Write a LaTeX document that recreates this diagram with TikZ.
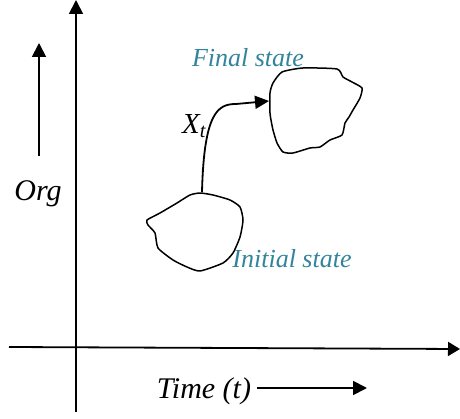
\documentclass[tikz,border=0pt]{standalone}
\usepackage{fontspec}
\setmainfont{Liberation Serif}
\usetikzlibrary{arrows.meta}
\definecolor{teal}{HTML}{31849B}
\begin{document}
\begin{tikzpicture}[x=1pt,y=-1pt,
  axis/.style={line width=1.8pt},
  tri/.style={-{Triangle[length=14pt,width=14pt]}},
  blob/.style={line width=1.5pt,line join=round},
  lbl/.style={font=\itshape\fontsize{30}{32}\selectfont,inner sep=0pt},
  statelbl/.style={font=\itshape\fontsize{26}{28}\selectfont,text=teal,inner sep=0pt}]
\useasboundingbox (0,0) rectangle (460,419);
% axes
\coordinate (ybot) at (76,412);
\coordinate (ytop) at (76,0);
\coordinate (xleft) at (9,347);
\coordinate (xright) at (460,349);
\draw[axis,tri] (ybot) -- (ytop);
\draw[axis,-{Triangle[length=12pt,width=14pt]}] (xleft) -- (xright);
% Org arrow
\coordinate (orgs) at (39,156);
\coordinate (orge) at (39,43);
\draw[axis,tri] (orgs) -- (orge);
\node[lbl] (org) at (38,194) {Org};
% Time arrow
\node[lbl] (time) at (204,391) {Time (t)};
\coordinate (tstart) at (257,388);
\coordinate (tend) at (367,388);
\draw[axis,tri] (tstart) -- (tend);
% final state blob
\draw[blob] plot[smooth cycle,tension=0.35] coordinates {(282,72) (303,68) (337,69) (343,77) (352,82) (362,88) (360,98) (353,110) (349,117) (345,123) (342,135) (330,140) (320,147) (310,148) (293,153) (283,152) (277,143) (273,130) (271,120) (270,113) (270,93) (273,83)};
% initial state blob
\draw[blob] plot[smooth cycle,tension=0.35] coordinates {(147,220) (160,213) (177,203) (190,195) (200,193) (213,195) (230,200) (240,207) (243,220) (240,237) (233,253) (223,263) (200,271) (187,267) (173,260) (158,248) (155,233) (148,225)};
\coordinate (init) at (202,192);
\coordinate (fin) at (269,101);
\draw[line width=1.8pt,-{Triangle[length=14pt,width=13pt]}] (init) .. controls (204,112) and (218,104) .. (236,104) -- (fin);
\node[font=\itshape\fontsize{29}{30}\selectfont,inner sep=0pt] (xt) at (194,126) {X$_{\mathit t}$};
\node[statelbl] (final) at (248,58) {Final state};
\node[statelbl] (initial) at (292,259) {Initial state};
\end{tikzpicture}
\end{document}
